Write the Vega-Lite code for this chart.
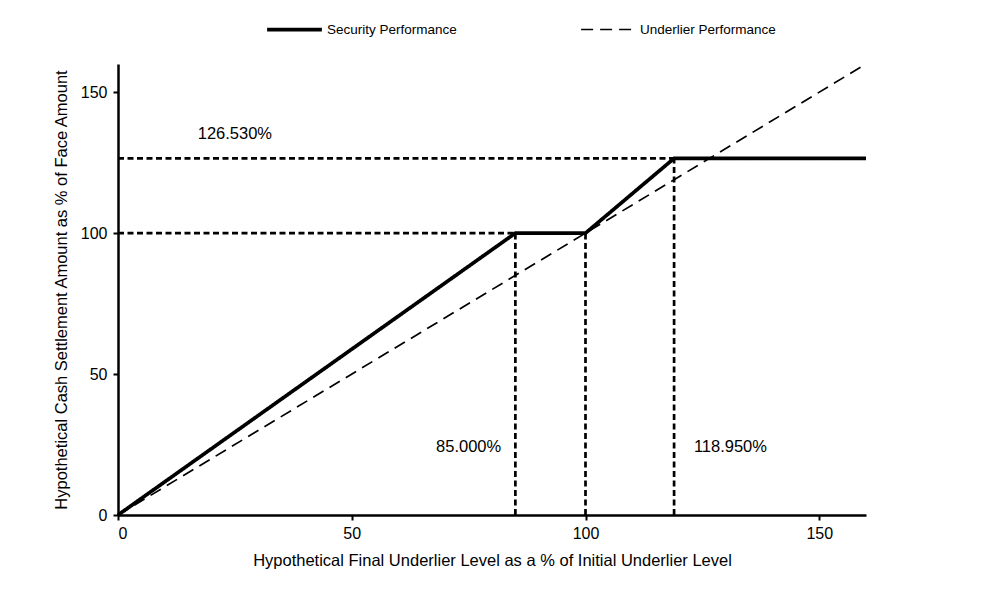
{
  "$schema": "https://vega.github.io/schema/vega-lite/v6.json",
  "autosize": {"type": "none"},
  "padding": {"left": 118, "top": 64, "right": 123, "bottom": 74},
  "width": 748,
  "height": 451,
  "background": "white",
  "config": {
    "view": {"stroke": null},
    "font": "Liberation Sans",
    "axis": {
      "grid": false,
      "domainColor": "black",
      "domainWidth": 2.5,
      "tickColor": "black",
      "tickWidth": 2,
      "tickSize": 5,
      "labelColor": "black",
      "labelFontSize": 16,
      "labelFont": "Liberation Sans",
      "titleColor": "black",
      "titleFontSize": 16.5,
      "titleFontWeight": "normal",
      "titleFont": "Liberation Sans"
    }
  },
  "datasets": {
    "perf": [
      {"series": "Security Performance", "x": 0, "y": 0, "o": 1},
      {"series": "Security Performance", "x": 85, "y": 100, "o": 2},
      {"series": "Security Performance", "x": 100, "y": 100, "o": 3},
      {"series": "Security Performance", "x": 118.95, "y": 126.53, "o": 4},
      {"series": "Security Performance", "x": 160, "y": 126.53, "o": 5},
      {"series": "Underlier Performance", "x": 0, "y": 0, "o": 1},
      {"series": "Underlier Performance", "x": 160, "y": 160, "o": 2}
    ],
    "guides": [
      {"g": "h100", "x": 0, "y": 100},
      {"g": "h100", "x": 85, "y": 100},
      {"g": "h126", "x": 0, "y": 126.53},
      {"g": "h126", "x": 118.95, "y": 126.53},
      {"g": "v85", "x": 85, "y": 0},
      {"g": "v85", "x": 85, "y": 100},
      {"g": "v100", "x": 100, "y": 0},
      {"g": "v100", "x": 100, "y": 100},
      {"g": "v119", "x": 118.95, "y": 0},
      {"g": "v119", "x": 118.95, "y": 126.53}
    ],
    "labels": [
      {"x": 25, "y": 135, "label": "126.530%"},
      {"x": 75, "y": 24, "label": "85.000%"},
      {"x": 131, "y": 24, "label": "118.950%"}
    ]
  },
  "layer": [
    {
      "data": {"name": "guides"},
      "mark": {"type": "line", "color": "black", "strokeWidth": 2.7, "strokeDash": [6, 3.5]},
      "encoding": {
        "x": {"field": "x", "type": "quantitative"},
        "y": {"field": "y", "type": "quantitative"},
        "detail": {"field": "g"}
      }
    },
    {
      "data": {"name": "perf"},
      "mark": {"type": "line", "color": "black"},
      "encoding": {
        "x": {
          "field": "x",
          "type": "quantitative",
          "scale": {"domain": [0, 160], "nice": false},
          "axis": {"values": [0, 50, 100, 150], "titlePadding": 11, "labelPadding": 5},
          "title": "Hypothetical Final Underlier Level as a % of Initial Underlier Level"
        },
        "y": {
          "field": "y",
          "type": "quantitative",
          "scale": {"domain": [0, 160], "nice": false},
          "axis": {"values": [0, 50, 100, 150], "titlePadding": 11, "labelPadding": 6},
          "title": "Hypothetical Cash Settlement Amount as % of Face Amount"
        },
        "order": {"field": "o"},
        "strokeDash": {
          "field": "series",
          "type": "nominal",
          "scale": {"domain": ["Security Performance", "Underlier Performance"], "range": [[1, 0], [12, 7]]},
          "legend": {
            "title": null,
            "orient": "none",
            "direction": "horizontal",
            "legendX": 147,
            "legendY": -64,
            "labelFontSize": 13.5,
            "labelColor": "black",
            "labelFont": "Liberation Sans",
            "symbolType": "stroke",
            "symbolSize": 3000,
            "symbolStrokeColor": "black",
            "columnPadding": 120,
            "labelOffset": 3
          }
        },
        "strokeWidth": {
          "field": "series",
          "type": "nominal",
          "scale": {"domain": ["Security Performance", "Underlier Performance"], "range": [3.7, 1.7]},
          "legend": null
        }
      }
    },
    {
      "data": {"name": "labels"},
      "mark": {"type": "text", "fontSize": 16.5, "color": "black", "font": "Liberation Sans"},
      "encoding": {
        "x": {"field": "x", "type": "quantitative"},
        "y": {"field": "y", "type": "quantitative"},
        "text": {"field": "label"}
      }
    }
  ]
}
